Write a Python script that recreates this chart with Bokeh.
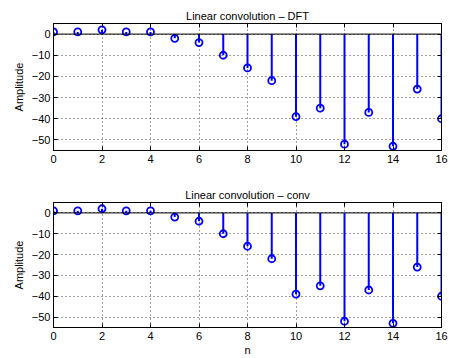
from bokeh.plotting import figure
from bokeh.models import Range1d, FixedTicker, Span, ColumnDataSource, LinearAxis
from bokeh.layouts import column
from bokeh.embed import file_html
from bokeh.resources import INLINE

n = list(range(17))
y_dft = [1, 1, 2, 1, 1, -2, -4, -10, -16, -22, -39, -35, -52, -37, -53, -26, -40]
y_conv = [1, 1, 2, 1, 1, -2, -4, -10, -16, -22, -39, -35, -52, -37, -53, -26, -40]
titles = ["Linear convolution \u2013 DFT", "Linear convolution \u2013 conv"]
x_ticks = [0, 2, 4, 6, 8, 10, 12, 14, 16]
y_ticks = [-50, -40, -30, -20, -10, 0]
y_tick_labels = {-50: "\u221250", -40: "\u221240", -30: "\u221230", -20: "\u221220", -10: "\u221210", 0: "0"}

FONT = "Liberation Sans"
BLUE = "#0000ff"


def style_axis(ax):
    ax.axis_line_color = "black"
    ax.major_tick_in = 4
    ax.major_tick_out = 0
    ax.minor_tick_in = 0
    ax.minor_tick_out = 0
    ax.major_tick_line_color = "black"
    ax.major_label_text_font = FONT
    ax.major_label_text_color = "black"
    ax.major_label_text_font_size = "11px"
    ax.major_label_standoff = 4
    ax.axis_label_text_font = FONT
    ax.axis_label_text_font_style = "normal"
    ax.axis_label_text_font_size = "11px"
    ax.axis_label_text_color = "black"


def tick_only_axis(ticks):
    ax = LinearAxis(ticker=FixedTicker(ticks=ticks))
    style_axis(ax)
    ax.major_label_text_font_size = "1px"
    ax.major_label_text_color = None
    ax.major_label_standoff = 0
    return ax


def make(title, y, height, top, bottom, xlabel):
    p = figure(width=449, height=height, output_backend="svg", toolbar_location=None,
               x_range=Range1d(0, 16), y_range=Range1d(-55, 5),
               min_border_left=53, min_border_right=8, min_border_top=top, min_border_bottom=bottom)
    p.title.text = title
    p.title.align = "center"
    p.title.text_font = FONT
    p.title.text_font_size = "11px"
    p.title.text_font_style = "normal"
    p.title.text_color = "black"
    p.title.standoff = 4
    p.outline_line_color = "black"
    p.outline_line_width = 1

    p.xaxis.ticker = FixedTicker(ticks=x_ticks)
    p.yaxis.ticker = FixedTicker(ticks=y_ticks)
    p.yaxis.major_label_overrides = y_tick_labels
    p.yaxis.axis_label = "Amplitude"
    p.yaxis.axis_label_standoff = 4
    if xlabel:
        p.xaxis.axis_label = xlabel
        p.xaxis.axis_label_standoff = 1
    style_axis(p.xaxis[0])
    style_axis(p.yaxis[0])
    p.yaxis.major_label_standoff = 3

    p.add_layout(tick_only_axis(x_ticks), "above")
    p.add_layout(tick_only_axis(y_ticks), "right")

    for g in (p.xgrid[0], p.ygrid[0]):
        g.grid_line_color = "#444444"
        g.grid_line_dash = "1 3"
        g.grid_line_width = 1
    p.xgrid.ticker = FixedTicker(ticks=x_ticks)
    p.ygrid.ticker = FixedTicker(ticks=y_ticks)

    p.add_layout(Span(location=0, dimension="width", line_color="black", line_width=1))

    src = ColumnDataSource(dict(x=n, y=y, z=[0] * len(n)))
    p.segment(x0="x", y0="z", x1="x", y1="y", source=src, line_color=BLUE, line_width=2)
    p.scatter(x="x", y="y", source=src, marker="circle", size=7, fill_color=None,
              line_color=BLUE, line_width=1.8)
    return p


p1 = make(titles[0], y_dft, 176, 23, 26, None)
p2 = make(titles[1], y_conv, 182, 26, 30, "n")
layout = column(p1, p2, spacing=0)
open("out.html", "w").write(file_html(layout, INLINE))
